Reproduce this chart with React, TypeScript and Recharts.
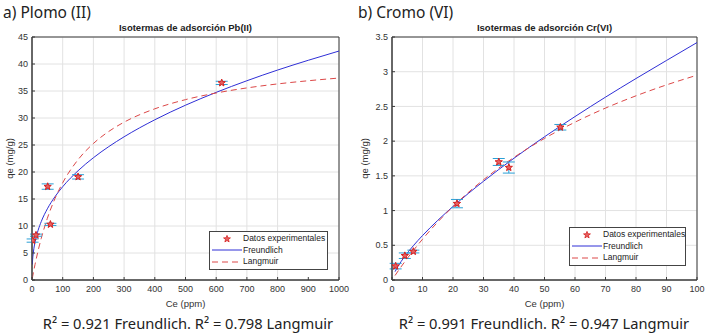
import React from 'react';
import {
  ComposedChart,
  Line,
  Scatter,
  ErrorBar,
  XAxis,
  YAxis,
  CartesianGrid,
  ReferenceArea,
  Legend,
} from 'recharts';

// Pb(II) experimental points
const pbCe = [2, 13, 51, 60, 150, 618];
const pbQe = [7.3, 8.3, 17.3, 10.3, 19.1, 36.5];
const pbErr = [0.3, 0.2, 0.5, 0.2, 0.4, 0.3];
// Pb(II) fitted curves
const pbFitCe = [1, 2, 3, 5, 10, 20, 30, 50, 75, 100, 150, 200, 250, 300, 400, 500, 600, 700, 800, 900, 1000];
const pbFreundlich = [2.87, 3.76, 4.4, 5.37, 7.04, 9.22, 10.8, 13.18, 15.44, 17.28, 20.23, 22.64, 24.7, 26.52, 29.67, 32.37, 34.75, 36.9, 38.88, 40.69, 42.4];
const pbLangmuir = [0.31, 0.62, 0.92, 1.51, 2.91, 5.45, 7.68, 11.42, 15.1, 18.0, 22.28, 25.28, 27.51, 29.23, 31.7, 33.4, 34.63, 35.57, 36.31, 36.9, 37.4];
const pbXTicks = [0, 100, 200, 300, 400, 500, 600, 700, 800, 900, 1000];
const pbYTicks = [0, 5, 10, 15, 20, 25, 30, 35, 40, 45];

// Cr(VI) experimental points
const crCe = [1.2, 4.2, 7, 21.3, 35, 38.3, 55.2];
const crQe = [0.2, 0.35, 0.41, 1.1, 1.7, 1.62, 2.2];
const crErr = [0.04, 0.04, 0.02, 0.06, 0.05, 0.08, 0.04];
// Cr(VI) fitted curves
const crFitCe = [1, 2, 4, 7, 10, 15, 20, 30, 40, 50, 60, 70, 80, 90, 100];
const crFreundlich = [0.12, 0.199, 0.329, 0.494, 0.64, 0.859, 1.059, 1.422, 1.754, 2.063, 2.354, 2.634, 2.902, 3.162, 3.42];
const crLangmuir = [0.065, 0.129, 0.252, 0.425, 0.587, 0.835, 1.058, 1.444, 1.766, 2.039, 2.273, 2.476, 2.653, 2.81, 2.95];
const crXTicks = [0, 10, 20, 30, 40, 50, 60, 70, 80, 90, 100];
const crYTicks = [0, 0.5, 1, 1.5, 2, 2.5, 3, 3.5];

const BLUE = '#2f2fd6';
const RED = '#dc4848';
const ERR = '#2a9fd6';
const AXIS = '#3a3a3a';
const TICK_FONT = '"Liberation Sans", Arial, sans-serif';

const starPoints = (cx: number, cy: number, ro: number, ri: number) => {
  const pts: string[] = [];
  for (let i = 0; i < 10; i++) {
    const r = i % 2 === 0 ? ro : ri;
    const a = -Math.PI / 2 + (i * Math.PI) / 5;
    pts.push(`${cx + r * Math.cos(a)},${cy + r * Math.sin(a)}`);
  }
  return pts.join(' ');
};

const StarShape = (props: any) => {
  const { cx, cy } = props;
  if (cx == null || cy == null) return null;
  return <polygon points={starPoints(cx, cy, 3.8, 1.6)} fill="#e86060" stroke="#d42020" strokeWidth={1} />;
};

const LegendBox = ({ width }: { width: number }) => (
  <div
    style={{
      width,
      boxSizing: 'border-box',
      border: '1px solid #444',
      background: '#fff',
      padding: '1px 0',
      fontFamily: TICK_FONT,
      fontSize: 8.5,
      color: '#222',
      lineHeight: '11.5px',
      whiteSpace: 'nowrap',
    }}
  >
    {[
      { label: 'Datos experimentales', kind: 'star' },
      { label: 'Freundlich', kind: 'line' },
      { label: 'Langmuir', kind: 'dash' },
    ].map((it) => (
      <div key={it.label} style={{ display: 'flex', alignItems: 'center', height: 11.5 }}>
        <svg width={30} height={10} style={{ marginLeft: 2, marginRight: 1, flex: 'none' }}>
          {it.kind === 'star' && <polygon points={starPoints(15, 5, 3.6, 1.5)} fill="#e86060" stroke="#d42020" strokeWidth={0.8} />}
          {it.kind === 'line' && <line x1={0} y1={5} x2={30} y2={5} stroke={BLUE} strokeWidth={1} />}
          {it.kind === 'dash' && <line x1={0} y1={5} x2={30} y2={5} stroke={RED} strokeWidth={1} strokeDasharray="6 4" />}
        </svg>
        <span>{it.label}</span>
      </div>
    ))}
  </div>
);

interface PanelProps {
  ce: number[];
  qe: number[];
  err: number[];
  fitCe: number[];
  freundlich: number[];
  langmuir: number[];
  xTicks: number[];
  yTicks: number[];
  width: number;
  yAxisWidth: number;
  right: number;
  legendLeft: number;
  legendTop: number;
  legendWidth: number;
}

function Panel(p: PanelProps) {
  const points = p.ce.map((x, i) => ({ x, y: p.qe[i], err: p.err[i] }));
  const fr = p.fitCe.map((x, i) => ({ x, y: p.freundlich[i] }));
  const lg = p.fitCe.map((x, i) => ({ x, y: p.langmuir[i] }));
  const xMax = p.xTicks[p.xTicks.length - 1];
  const yMax = p.yTicks[p.yTicks.length - 1];
  const tick = { fontSize: 9, fill: '#333', fontFamily: TICK_FONT };

  return (
    <ComposedChart width={p.width} height={312} margin={{ top: 37, right: p.right, bottom: 0, left: 0 }}>
      <CartesianGrid stroke="#e2e2e2" strokeWidth={1} />
      <XAxis
        type="number"
        dataKey="x"
        domain={[0, xMax]}
        ticks={p.xTicks}
        allowDataOverflow
        height={32}
        tickLine={{ stroke: AXIS }}
        tickSize={-3}
        tickMargin={9}
        axisLine={{ stroke: AXIS }}
        tick={tick}
        label={{ value: 'Ce (ppm)', position: 'insideBottom', offset: 5, fontSize: 9.5, fill: '#333', fontFamily: TICK_FONT }}
      />
      <XAxis
        xAxisId="top"
        orientation="top"
        type="number"
        domain={[0, xMax]}
        ticks={p.xTicks}
        allowDataOverflow
        height={0}
        tickLine={{ stroke: AXIS }}
        tickSize={-3}
        axisLine={false}
        tick={false}
      />
      <YAxis
        type="number"
        domain={[0, yMax]}
        ticks={p.yTicks}
        allowDataOverflow
        width={p.yAxisWidth}
        tickLine={{ stroke: AXIS }}
        tickSize={-3}
        tickMargin={7}
        axisLine={{ stroke: AXIS }}
        tick={tick}
        label={{
          content: () => (
            <text
              x={9}
              y={158.5}
              transform="rotate(-90, 9, 158.5)"
              textAnchor="middle"
              dominantBaseline="central"
              fontSize={9.5}
              fill="#333"
              fontFamily={TICK_FONT}
            >
              qe (mg/g)
            </text>
          ),
        }}
      />
      <YAxis
        yAxisId="right"
        orientation="right"
        type="number"
        domain={[0, yMax]}
        ticks={p.yTicks}
        allowDataOverflow
        width={0}
        tickLine={{ stroke: AXIS }}
        tickSize={-3}
        axisLine={false}
        tick={false}
      />
      <ReferenceArea x1={0} x2={xMax} y1={0} y2={yMax} fill="none" stroke={AXIS} strokeWidth={1} ifOverflow="visible" />
      <Line data={fr} dataKey="y" type="monotone" stroke={BLUE} strokeWidth={1} dot={false} isAnimationActive={false} />
      <Line
        data={lg}
        dataKey="y"
        type="monotone"
        stroke={RED}
        strokeWidth={1}
        strokeDasharray="6 4"
        dot={false}
        isAnimationActive={false}
      />
      <Scatter data={points} dataKey="y" shape={StarShape} isAnimationActive={false}>
        <ErrorBar dataKey="err" direction="y" width={6} stroke={ERR} strokeWidth={1} isAnimationActive={false} />
      </Scatter>
      <Legend
        layout="vertical"
        align="center"
        verticalAlign="middle"
        content={() => <LegendBox width={p.legendWidth} />}
        wrapperStyle={{ left: p.legendLeft, top: p.legendTop, width: p.legendWidth }}
      />
    </ComposedChart>
  );
}

const headStyle: React.CSSProperties = {
  position: 'absolute',
  fontFamily: '"Noto Sans", sans-serif',
  fontSize: 15.5,
  color: '#222',
  whiteSpace: 'nowrap',
  lineHeight: '20px',
};

const titleStyle: React.CSSProperties = {
  position: 'absolute',
  fontFamily: TICK_FONT,
  fontWeight: 'bold',
  fontSize: 9.5,
  color: '#222',
  whiteSpace: 'nowrap',
  textAlign: 'center',
  lineHeight: '12px',
};

const captionStyle: React.CSSProperties = {
  position: 'absolute',
  fontFamily: '"Noto Sans", sans-serif',
  fontSize: 14.7,
  color: '#222',
  whiteSpace: 'nowrap',
  textAlign: 'center',
  lineHeight: '20px',
};

export default function App() {
  return (
    <div style={{ position: 'absolute', left: 0, top: 0, width: 709, height: 333, background: '#fff', overflow: 'hidden' }}>
      <div style={{ ...headStyle, left: 3, top: 2 }}>a) Plomo (II)</div>
      <div style={{ ...headStyle, left: 358, top: 2 }}>b) Cromo (VI)</div>
      <div style={{ ...titleStyle, left: 32, width: 307, top: 22 }}>Isotermas de adsorción Pb(II)</div>
      <div style={{ ...titleStyle, left: 392, width: 305, top: 22 }}>Isotermas de adsorción Cr(VI)</div>

      <div style={{ position: 'absolute', left: 0, top: 0 }}>
        <Panel
          ce={pbCe}
          qe={pbQe}
          err={pbErr}
          fitCe={pbFitCe}
          freundlich={pbFreundlich}
          langmuir={pbLangmuir}
          xTicks={pbXTicks}
          yTicks={pbYTicks}
          width={355}
          yAxisWidth={32}
          right={16}
          legendLeft={209}
          legendTop={231}
          legendWidth={119}
        />
      </div>
      <div style={{ position: 'absolute', left: 355, top: 0 }}>
        <Panel
          ce={crCe}
          qe={crQe}
          err={crErr}
          fitCe={crFitCe}
          freundlich={crFreundlich}
          langmuir={crLangmuir}
          xTicks={crXTicks}
          yTicks={crYTicks}
          width={354}
          yAxisWidth={37}
          right={12}
          legendLeft={214}
          legendTop={227}
          legendWidth={117}
        />
      </div>

      <div style={{ ...captionStyle, left: 0, width: 376, top: 313 }}>R² = 0.921 Freundlich. R² = 0.798 Langmuir</div>
      <div style={{ ...captionStyle, left: 355, width: 378, top: 313 }}>R² = 0.991 Freundlich. R² = 0.947 Langmuir</div>
    </div>
  );
}
